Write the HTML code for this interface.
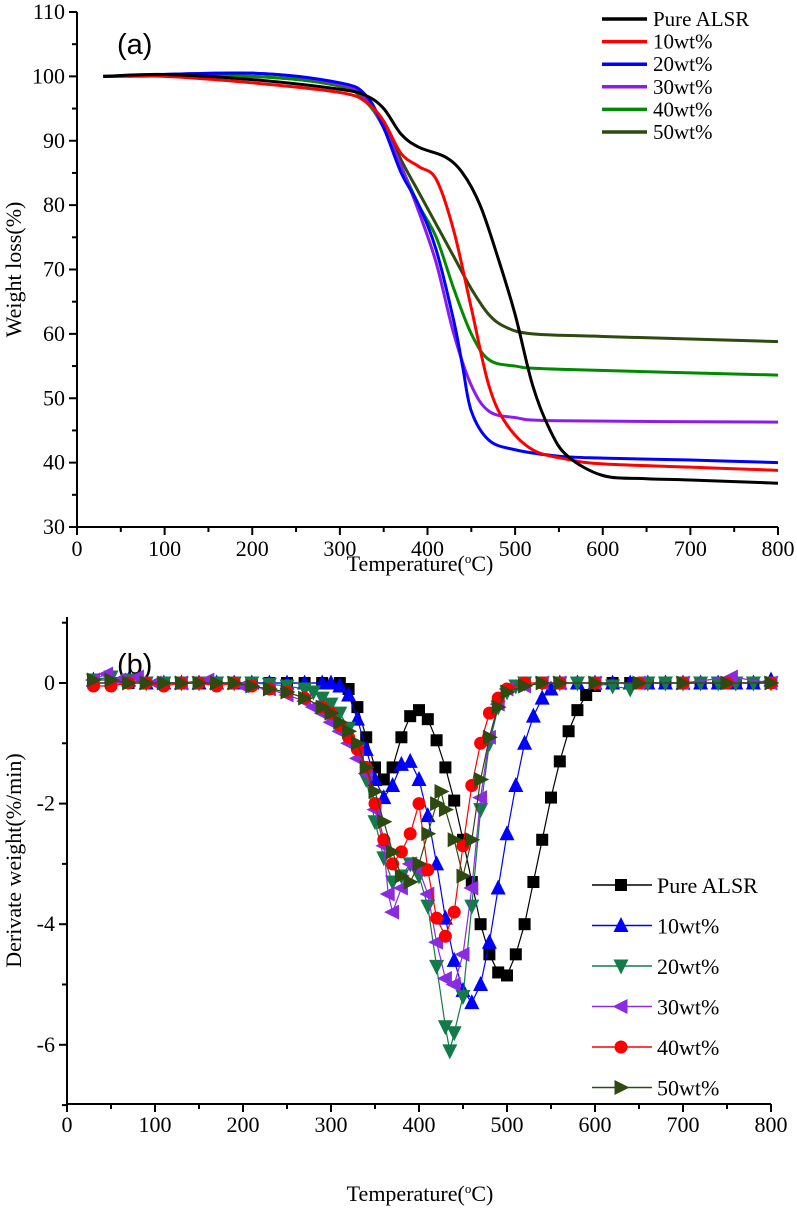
<!DOCTYPE html>
<html><head><meta charset="utf-8"><style>
html,body{margin:0;padding:0;background:#fff;}
svg{display:block;font-family:"Liberation Serif",serif;}
</style></head><body>
<svg id="c" width="797" height="1211" viewBox="0 0 797 1211" xmlns="http://www.w3.org/2000/svg"></svg>
<script>
// ---------- data: panel (a) TGA ----------
const tgaNames = ["Pure ALSR","10wt%","20wt%","30wt%","40wt%","50wt%"];
const tgaColors = ["#000000","#ff0000","#0000ff","#8a1cf0","#008a00","#2d4a10"];
const tgaT0 = [30,100,200,300,330,350,370,390,420,440,460,480,500,520,540,560,600,650,700,800];
const tgaW0 = [100,100.3,99.5,98,97,95,91,89,87.5,85,80,72,63,52,45,41,38,37.5,37.3,36.8];
const tgaT1 = [30,100,200,300,330,350,370,390,410,430,450,470,490,520,560,600,700,800];
const tgaW1 = [100,100,99,97.5,96,93,88,86,84,76,64,52,46,42,40.5,39.8,39.3,38.8];
const tgaT2 = [30,200,300,330,350,370,390,410,430,440,450,470,500,550,600,700,800];
const tgaW2 = [100,100.5,99,97,92,85,80,73,62,55,48,43.5,42,41,40.7,40.4,40];
const tgaT3 = [30,200,300,330,350,370,390,410,430,450,470,500,550,800];
const tgaW3 = [100,100.5,98.8,96.5,92,86,79,71,60,52,48,47,46.5,46.3];
const tgaT4 = [30,200,300,330,350,370,390,410,430,450,470,500,550,800];
const tgaW4 = [100,100,98.5,96,92,86,80,75,67,60,56,55,54.5,53.6];
const tgaT5 = [30,200,300,330,350,370,390,410,430,450,470,490,520,600,800];
const tgaW5 = [100,100,98.5,96,93,87,82,77,72,67,63,61,60,59.6,58.8];
const tgaYTicks = [30,40,50,60,70,80,90,100,110];
const xTicks = [0,100,200,300,400,500,600,700,800];

// ---------- data: panel (b) DTG ----------
const dtgNames = ["Pure ALSR","10wt%","20wt%","30wt%","40wt%","50wt%"];
const dtgColors = ["#000000","#0000ff","#137a4a","#8a2be2","#ff0000","#2d4a10"];
const dtgMarkers = ["square","up","down","left","circle","right"];
const dtgT0 = [30,50,70,90,110,130,150,170,190,210,230,250,270,290,310,320,330,340,350,360,370,380,390,400,410,420,430,440,450,460,470,480,490,500,510,520,530,540,550,560,570,580,590,600,620,640,660,680,700,720,740,760,780,800];
const dtgV0 = [0,0,0,0,0,0,0,0,0,0,0,0,0,0,0,-0.1,-0.4,-0.9,-1.4,-1.6,-1.4,-0.9,-0.55,-0.45,-0.6,-0.95,-1.4,-1.95,-2.6,-3.3,-4.0,-4.5,-4.8,-4.85,-4.5,-4.0,-3.3,-2.6,-1.9,-1.3,-0.8,-0.45,-0.2,-0.05,0,0,0,0,0,0,0,0,0,0];
const dtgT1 = [30,50,70,90,110,130,150,170,190,210,230,250,270,290,300,310,320,330,340,350,360,370,380,390,400,410,420,430,440,450,460,470,480,490,500,510,520,530,540,550,560,580,600,620,640,660,680,700,720,740,760,780,800];
const dtgV1 = [0.05,0.1,0.05,0,0,0,0,0,0,0,0,0,0,0,0,-0.05,-0.2,-0.6,-1.1,-1.6,-1.9,-1.7,-1.35,-1.3,-1.6,-2.2,-3.0,-3.9,-4.6,-5.1,-5.3,-5.0,-4.3,-3.4,-2.5,-1.7,-1.0,-0.55,-0.25,-0.1,0,0,0,0,0,0,0,0,0,0,0,0,0.05];
const dtgT2 = [30,50,70,90,110,130,150,170,190,210,230,250,270,280,290,300,310,320,330,340,350,360,370,380,390,400,410,420,430,435,440,450,460,470,480,490,500,510,520,540,560,580,600,620,640,660,680,700,720,740,760,780,800];
const dtgV2 = [0.05,0.1,0.05,0,0,0,0,0,0,0,-0.02,-0.05,-0.1,-0.15,-0.25,-0.35,-0.5,-0.75,-1.1,-1.6,-2.3,-2.9,-3.3,-3.2,-3.0,-3.2,-3.7,-4.7,-5.7,-6.1,-5.8,-5.2,-3.7,-2.1,-1.0,-0.4,-0.15,-0.05,0,0,0,0,0,-0.05,-0.1,0,0,0,0,0,0,0,0];
const dtgT3 = [30,45,60,80,100,130,160,200,230,250,270,280,290,300,310,320,330,340,350,360,365,370,380,390,400,410,420,430,440,450,460,470,480,490,500,520,540,560,600,650,700,755,800];
const dtgV3 = [0.05,0.15,0.05,0.1,0,0,0.05,-0.05,-0.1,-0.2,-0.3,-0.4,-0.5,-0.65,-0.8,-1.0,-1.25,-1.5,-2.1,-2.7,-3.5,-3.8,-3.4,-3.0,-3.1,-3.5,-4.3,-4.9,-5.0,-4.5,-3.4,-1.9,-0.9,-0.35,-0.1,-0.05,0,0,0,0,0,0.1,0];
const dtgT4 = [30,50,70,90,110,130,150,170,190,210,230,250,270,290,300,310,320,330,340,350,360,370,380,390,400,410,420,430,440,450,460,470,480,490,500,520,540,560,600,650,700,750,800];
const dtgV4 = [-0.05,-0.05,0,0,-0.05,0,0,-0.05,0,-0.05,-0.1,-0.15,-0.25,-0.4,-0.5,-0.7,-0.9,-1.1,-1.4,-2.0,-2.6,-3.0,-2.8,-2.5,-2.0,-3.1,-3.9,-4.2,-3.8,-2.7,-1.7,-1.0,-0.5,-0.25,-0.1,0,0,0,0,0,0,0,0];
const dtgT5 = [30,50,70,90,110,130,150,170,190,210,230,250,270,290,300,310,320,330,340,350,360,370,380,390,400,410,420,425,430,440,450,460,470,480,490,500,520,540,560,600,650,700,750,800];
const dtgV5 = [0.05,0.05,0,0,0,0,0,0,0,-0.05,-0.1,-0.15,-0.25,-0.4,-0.5,-0.65,-0.8,-1.0,-1.4,-1.8,-2.3,-2.8,-3.2,-3.3,-3.0,-2.5,-2.0,-1.8,-2.1,-2.6,-3.2,-2.6,-1.6,-0.9,-0.4,-0.15,-0.05,0,0,0,0,0,0,0];
const dtgYTicks = [0,-2,-4,-6];

const NS = "http://www.w3.org/2000/svg";
const svg = document.getElementById("c");
function mk(tag, attrs, parent){const e=document.createElementNS(NS,tag);for(const k in attrs)e.setAttribute(k,attrs[k]);(parent||svg).appendChild(e);return e;}

// ---------- panel (a) ----------
const ax = {x0:77,x1:778,y0:527,y1:12};
const xa = v => ax.x0 + (v-0)/(800-0)*(ax.x1-ax.x0);
const ya = v => ax.y0 - (v-30)/(110-30)*(ax.y0-ax.y1);
const gA = mk("g",{});


const axisA = mk("path",{d:`M${ax.x0},${ax.y1} V${ax.y0} H${ax.x1}`,stroke:"#000","stroke-width":2,fill:"none"},gA);


for(let v=30; v<=110; v+=5){
  const major = v%10===0;
  mk("line",{x1:ax.x0-(major?8:5),x2:ax.x0,y1:ya(v),y2:ya(v),stroke:"#000","stroke-width":2},gA);
}
tgaYTicks.forEach(v=>{
  const t = mk("text",{x:ax.x0-12,y:ya(v)+7,"text-anchor":"end","font-size":22},gA);
  t.textContent=v;
  
  
});
for(let v=0; v<=800; v+=50){
  const major = v%100===0;
  mk("line",{x1:xa(v),x2:xa(v),y1:ax.y0,y2:ax.y0+(major?8:5),stroke:"#000","stroke-width":2},gA);
}
xTicks.forEach(v=>{
  const t = mk("text",{x:xa(v),y:ax.y0+29,"text-anchor":"middle","font-size":22},gA);
  t.textContent=v;
  
  
});
const ylA = mk("text",{x:0,y:0,"text-anchor":"middle","font-size":22,transform:`translate(21,${(ax.y0+ax.y1)/2}) rotate(-90)`},gA);
ylA.textContent="Weight loss(%)";


const xlA = mk("text",{x:420,y:571,"text-anchor":"middle","font-size":22},gA);
xlA.innerHTML='Temperature(<tspan font-size="13" dy="-8">o</tspan><tspan dy="8">C)</tspan>';


const labA = mk("text",{x:117,y:54,"font-size":29,"font-family":"Liberation Sans, sans-serif"},gA);
labA.textContent="(a)";


const tgaT=[tgaT0,tgaT1,tgaT2,tgaT3,tgaT4,tgaT5], tgaW=[tgaW0,tgaW1,tgaW2,tgaW3,tgaW4,tgaW5];
function smoothPath(pts){
  let d=`M${pts[0][0]},${pts[0][1]}`;
  for(let i=0;i<pts.length-1;i++){
    const p0=pts[i-1]||pts[i],p1=pts[i],p2=pts[i+1],p3=pts[i+2]||p2;
    const c1=[p1[0]+(p2[0]-p0[0])/6,p1[1]+(p2[1]-p0[1])/6];
    const c2=[p2[0]-(p3[0]-p1[0])/6,p2[1]-(p3[1]-p1[1])/6];
    d+=` C${c1[0]},${c1[1]} ${c2[0]},${c2[1]} ${p2[0]},${p2[1]}`;
  }
  return d;
}
[5,4,3,2,1,0].forEach(i=>{
  const pts = tgaT[i].map((t,j)=>[xa(t),ya(tgaW[i][j])]);
  const p = mk("path",{d:smoothPath(pts),stroke:tgaColors[i],"stroke-width":3,fill:"none"},gA);
  
  
});
tgaNames.forEach((n,i)=>{
  const y = 19 + i*22.6;
  const l = mk("line",{x1:602,x2:647,y1:y,y2:y,stroke:tgaColors[i],"stroke-width":3.5},gA);
  
  
  const t = mk("text",{x:653,y:y+7,"font-size":21},gA);
  t.textContent=n;
  
  
});

// ---------- panel (b) ----------
const bx = {x0:67,x1:771,y0:1104,y1:617};
const xb = v => bx.x0 + (v-0)/800*(bx.x1-bx.x0);
const yb = v => 683 - v*60.3;
const gB = mk("g",{});


const axisB = mk("path",{d:`M${bx.x0},${bx.y1} V${bx.y0} H${bx.x1}`,stroke:"#000","stroke-width":2,fill:"none"},gB);


for(let v=1; v>=-7; v-=1){
  const major = v%2===0;
  mk("line",{x1:bx.x0-(major?8:5),x2:bx.x0,y1:yb(v),y2:yb(v),stroke:"#000","stroke-width":2},gB);
}
dtgYTicks.forEach(v=>{
  const t = mk("text",{x:bx.x0-12,y:yb(v)+7,"text-anchor":"end","font-size":22},gB);
  t.textContent=v;
  
  
});
for(let v=0; v<=800; v+=50){
  const major = v%100===0;
  mk("line",{x1:xb(v),x2:xb(v),y1:bx.y0,y2:bx.y0+(major?8:5),stroke:"#000","stroke-width":2},gB);
}
xTicks.forEach(v=>{
  const t = mk("text",{x:xb(v),y:bx.y0+28,"text-anchor":"middle","font-size":22},gB);
  t.textContent=v;
  
  
});
const ylB = mk("text",{x:0,y:0,"text-anchor":"middle","font-size":22,transform:`translate(21,${(bx.y0+bx.y1)/2}) rotate(-90)`},gB);
ylB.textContent="Derivate weight(%/min)";


const xlB = mk("text",{x:420,y:1201,"text-anchor":"middle","font-size":22},gB);
xlB.innerHTML='Temperature(<tspan font-size="13" dy="-8">o</tspan><tspan dy="8">C)</tspan>';


const labB = mk("text",{x:117,y:674,"font-size":29,"font-family":"Liberation Sans, sans-serif"},gB);
labB.textContent="(b)";



function marker(kind,x,y,col,parent){
  const s=7.5;
  let e;
  if(kind==="square") e=mk("rect",{x:x-6,y:y-6,width:12,height:12,fill:col},parent);
  else if(kind==="circle") e=mk("circle",{cx:x,cy:y,r:6.5,fill:col},parent);
  else {
    let pts;
    if(kind==="up") pts=[[x,y-s-1],[x-s,y+s-1],[x+s,y+s-1]];
    if(kind==="down") pts=[[x,y+s+1],[x-s,y-s+1],[x+s,y-s+1]];
    if(kind==="left") pts=[[x-s-1,y],[x+s-1,y-s],[x+s-1,y+s]];
    if(kind==="right") pts=[[x+s+1,y],[x-s+1,y-s],[x-s+1,y+s]];
    e=mk("polygon",{points:pts.map(p=>p.join(",")).join(" "),fill:col},parent);
  }
  return e;
}
const dtgT=[dtgT0,dtgT1,dtgT2,dtgT3,dtgT4,dtgT5], dtgV=[dtgV0,dtgV1,dtgV2,dtgV3,dtgV4,dtgV5];
[0,1,2,3,4,5].forEach(i=>{
  const g = mk("g",{},gB);
  
  
  const pts = dtgT[i].map((t,j)=>[xb(t),yb(dtgV[i][j])]);
  const p = mk("polyline",{points:pts.map(q=>q.join(",")).join(" "),stroke:dtgColors[i],"stroke-width":1.2,fill:"none"},g);
  
  
  pts.forEach(q=>{
    const m = marker(dtgMarkers[i],q[0],q[1],dtgColors[i],g);
    
    
  });
});
dtgNames.forEach((n,i)=>{
  const y = 885 + i*40.5;
  const l = mk("line",{x1:592,x2:652,y1:y,y2:y,stroke:dtgColors[i],"stroke-width":1.5},gB);
  
  
  const m = marker(dtgMarkers[i],621,y,dtgColors[i],gB);
  
  
  const t = mk("text",{x:657,y:y+8,"font-size":22},gB);
  t.textContent=n;
  
  
});
</script>
</body></html>
